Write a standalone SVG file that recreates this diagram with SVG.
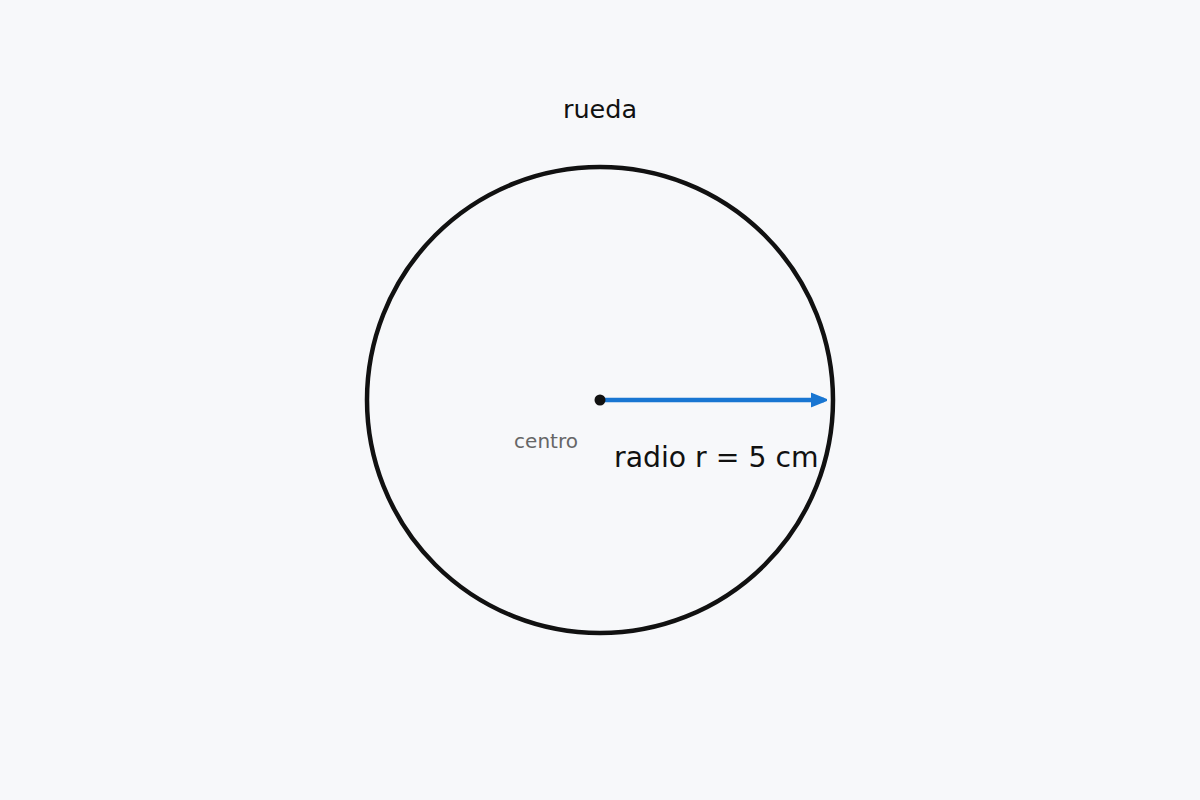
<svg xmlns="http://www.w3.org/2000/svg" width="1200" height="800" viewBox="0 0 1200 800">
<style>
.lbl{font-family:"DejaVu Sans",sans-serif;fill:#111}
</style>
<defs>
<marker id="ah" viewBox="0 0 10 10" refX="8" refY="5" markerWidth="16" markerHeight="16" orient="auto" markerUnits="userSpaceOnUse">
<path d="M0,1 L10,5 L0,9 Z" fill="#1976D2" stroke="#1976D2" stroke-width="1" stroke-linejoin="round"/>
</marker>
</defs>
<rect width="1200" height="800" fill="#F7F8FA"/>
<g id="wheel">
<circle cx="600" cy="400" r="233" fill="none" stroke="#111" stroke-width="4.5"/>
<text class="lbl" x="600" y="118" font-size="25.5" text-anchor="middle">rueda</text>
</g>
<g id="connectors">
<line x1="600" y1="400" x2="824" y2="400" stroke="#1976D2" stroke-width="4.5" marker-end="url(#ah)"/>
<text class="lbl" x="614" y="467" font-size="28.3">radio r = 5 cm</text>
</g>
<g id="center">
<circle cx="600" cy="400" r="5.5" fill="#111"/>
<text class="lbl" x="546" y="448" font-size="20" text-anchor="middle" style="fill:#666">centro</text>
</g>
</svg>
